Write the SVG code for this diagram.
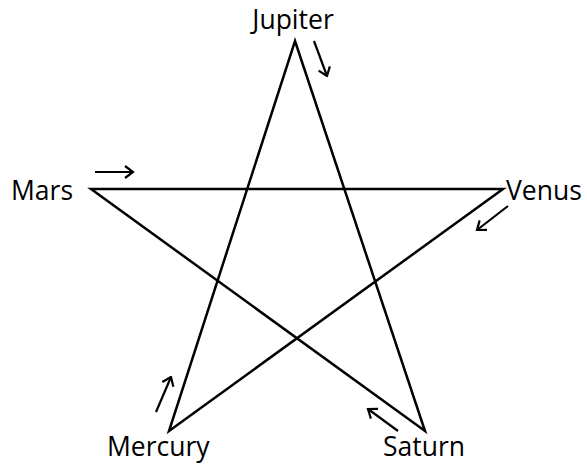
<svg xmlns="http://www.w3.org/2000/svg" width="587" height="464" viewBox="0 0 587 464">
<defs>
<marker id="ah" viewBox="0 0 11 14" refX="9.5" refY="7" markerWidth="11" markerHeight="14" markerUnits="userSpaceOnUse" orient="auto">
<path d="M1.5,1 L9.5,7 L1.5,13" fill="none" stroke="#000" stroke-width="2.2"/>
</marker>
</defs>
<style>
.lbl{font-family:"Open Sans","Liberation Sans",sans-serif;font-size:26.5px;fill:#000}
.edge{fill:none;stroke:#000;stroke-width:2.5;stroke-linejoin:miter}
.arr{fill:none;stroke:#000;stroke-width:2.2;marker-end:url(#ah)}
</style>
<rect width="587" height="464" fill="#fff"/>
<g id="connectors">
<path class="edge" d="M295,41 L425,431 L91,189 L503,189 L169,431 Z"/>
<line class="arr" x1="314" y1="41" x2="327" y2="76"/>
<line class="arr" x1="95" y1="172" x2="133" y2="172"/>
<line class="arr" x1="508" y1="206" x2="477" y2="230"/>
<line class="arr" x1="156" y1="412" x2="171" y2="377"/>
<line class="arr" x1="398" y1="431" x2="368" y2="409"/>
</g>
<g id="jupiter"><text class="lbl" x="293" y="29" text-anchor="middle">Jupiter</text></g>
<g id="mars"><text class="lbl" x="11" y="200">Mars</text></g>
<g id="venus"><text class="lbl" x="506" y="200">Venus</text></g>
<g id="mercury"><text class="lbl" x="107" y="456">Mercury</text></g>
<g id="saturn"><text class="lbl" x="383" y="456">Saturn</text></g>
</svg>
